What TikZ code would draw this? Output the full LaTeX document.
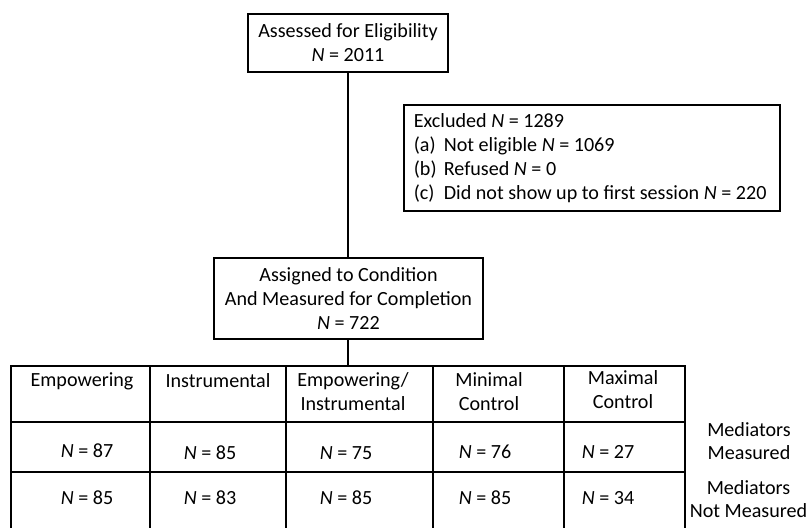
\documentclass[tikz,border=0pt]{standalone}
\usepackage{fontspec}
\setmainfont{Carlito}
\begin{document}
\begin{tikzpicture}[x=0.025cm,y=-0.025cm,
  font=\fontsize{14.3}{17}\selectfont,
  box/.style={draw,line width=1.2pt,align=center,inner sep=0pt},
  cell/.style={align=center,inner sep=0pt}]
\useasboundingbox (0,0) rectangle (808,527);
\clip (0,0) rectangle (808,527);
% flow boxes
\node[box,minimum width=5cm,minimum height=1.45cm] (assess) at (348,43) {Assessed for Eligibility\\\textit{N} = 2011};
\node[box,anchor=north west,minimum height=2.65cm,align=flush left,text width=8.9cm,inner xsep=0.25cm] (excl) at (403,104)
  {Excluded \textit{N} = 1289\\
   \makebox[0.75cm][l]{(a)}Not eligible \textit{N} = 1069\\
   \makebox[0.75cm][l]{(b)}Refused \textit{N} = 0\\
   \makebox[0.75cm][l]{(c)}Did not show up to first session \textit{N} = 220};
\node[box,minimum width=6.725cm,minimum height=2.025cm] (assign) at (348.5,298.5) {Assigned to Condition\\And Measured for Completion\\\textit{N} = 722};
\coordinate (tabtop) at (348,366);
\draw[line width=1.2pt] (assess.south) -- (assess.south |- assign.north);
\draw[line width=1.2pt] (assign.south -| tabtop) -- (tabtop);
% table grid
\draw[line width=1.2pt] (11,366) rectangle (685,535);
\foreach \x in {150,286,433,564}
  \draw[line width=1.2pt] (\x,366) -- (\x,535);
\foreach \y in {422,472}
  \draw[line width=1.2pt] (11,\y) -- (685,\y);
% header row
\node[cell] (h1) at (82,381) {Empowering};
\node[cell] (h2) at (218,381) {Instrumental};
\node[cell] (h3) at (353,392) {Empowering/\\Instrumental};
\node[cell] (h4) at (489,392) {Minimal\\Control};
\node[cell] (h5) at (623,390) {Maximal\\Control};
% mediators measured
\node[cell] (a1) at (87,451) {\textit{N} = 87};
\node[cell] (a2) at (210,453) {\textit{N} = 85};
\node[cell] (a3) at (346,453) {\textit{N} = 75};
\node[cell] (a4) at (485,452) {\textit{N} = 76};
\node[cell] (a5) at (608,452) {\textit{N} = 27};
% mediators not measured
\node[cell] (b1) at (87,498) {\textit{N} = 85};
\node[cell] (b2) at (210,498) {\textit{N} = 83};
\node[cell] (b3) at (346,498) {\textit{N} = 85};
\node[cell] (b4) at (485,498) {\textit{N} = 85};
\node[cell] (b5) at (608,498) {\textit{N} = 34};
% row labels
\node[cell,font=\fontsize{14.3}{16.2}\selectfont] (m1) at (749,441) {Mediators\\Measured};
\node[cell,font=\fontsize{14.3}{16.2}\selectfont] (m2) at (748.5,499) {Mediators\\Not Measured};
\end{tikzpicture}
\end{document}
